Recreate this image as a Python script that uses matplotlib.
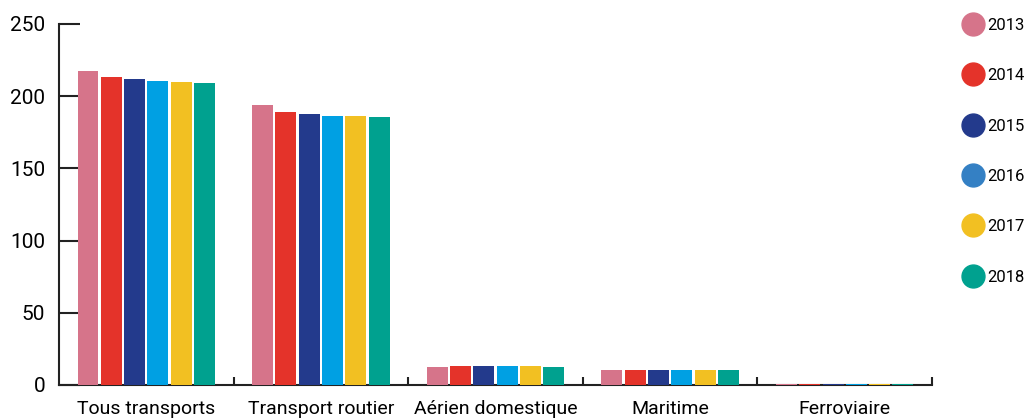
import numpy as np
import matplotlib
matplotlib.use("Agg")
import matplotlib.pyplot as plt
from matplotlib.lines import Line2D

plt.rcParams['font.family'] = ['Roboto', 'DejaVu Sans']

categories = ["Tous transports", "Transport routier", "Aérien domestique", "Maritime", "Ferroviaire"]
years = ["2013", "2014", "2015", "2016", "2017", "2018"]

# emissions per mode, one list per year (same order as categories)
v2013 = [217.5, 194.0, 12.4, 10.4, 1.0]
v2014 = [213.3, 189.2, 13.0, 10.4, 1.0]
v2015 = [211.9, 187.8, 13.0, 10.4, 1.0]
v2016 = [210.5, 186.4, 13.0, 10.4, 1.0]
v2017 = [209.8, 186.4, 13.0, 10.4, 1.0]
v2018 = [209.1, 185.7, 12.4, 10.4, 1.0]
series = [v2013, v2014, v2015, v2016, v2017, v2018]

bar_colors = ["#D6748A", "#E4332A", "#233A8C", "#00A0E3", "#F2C022", "#00A18F"]
legend_colors = ["#D6748A", "#E4332A", "#233A8C", "#3480C4", "#F2C022", "#00A18F"]

fig = plt.figure(figsize=(10.27, 4.18), dpi=100)
ax = fig.add_axes([0.0574, 0.079, 0.8501, 0.8636])

x = np.arange(len(categories))
step = 0.1335
width = 0.12
for i, (vals, col) in enumerate(zip(series, bar_colors)):
    # bars drawn over the bottom spine so the tiny rail values stay visible
    ax.bar(x + (i - 2.5) * step, vals, width=width, color=col, linewidth=0, zorder=3)

ax.set_xlim(-0.5, len(categories) - 0.5)
ax.set_ylim(0, 250)
ax.set_yticks([0, 50, 100, 150, 200, 250])

ax.set_xticks(x)
ax.set_xticklabels(categories)
ax.set_xticks(np.arange(0.5, len(categories), 1.0), minor=True)
ax.tick_params(axis='x', which='major', length=0, pad=11, labelsize=14)
ax.tick_params(axis='x', which='minor', direction='in', length=6, width=1.5, color='#222222')
ax.tick_params(axis='y', direction='in', length=15, width=1.5, color='#222222',
               pad=10, labelsize=15)

for side in ['top', 'right']:
    ax.spines[side].set_visible(False)
for side in ['left', 'bottom']:
    ax.spines[side].set_linewidth(1.5)
    ax.spines[side].set_color('#222222')

handles = [Line2D([], [], marker='o', linestyle='', markersize=16.5,
                  markerfacecolor=c, markeredgecolor=c) for c in legend_colors]
fig.legend(handles, years, loc='upper left', bbox_to_anchor=(0.928, 0.985),
           frameon=False, fontsize=12, handlelength=1.0, handletextpad=0.35,
           labelspacing=2.12, borderaxespad=0.3)

fig.savefig("out.png", dpi=100)
